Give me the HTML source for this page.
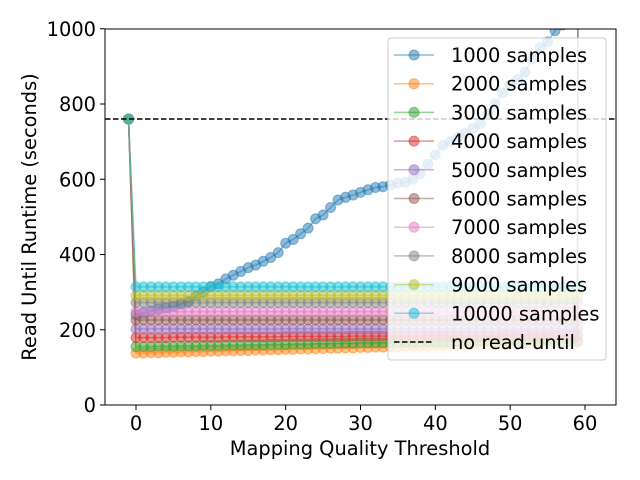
<!DOCTYPE html>
<html><head><meta charset="utf-8"><style>
html,body{margin:0;padding:0;background:#fff;}
svg{display:block;font-family:"DejaVu Sans","Liberation Sans",sans-serif;}
</style></head><body>
<svg id="chart" width="640" height="480" viewBox="0 0 640 480" xmlns="http://www.w3.org/2000/svg">
<defs><clipPath id="plotclip"><rect x="105" y="29" width="511" height="376"/></clipPath></defs>
<rect x="0" y="0" width="640" height="480" fill="#fff"/>
<g id="series" clip-path="url(#plotclip)"></g>
<line x1="105" x2="616" y1="119" y2="119" id="refline" stroke="#000" stroke-width="1.5" stroke-dasharray="5.5,2.5"/>
<rect x="105" y="29" width="511" height="376" fill="none" stroke="#000" stroke-width="1"/>
<g id="xticks"></g>
<g id="yticks"></g>
<text x="360" y="455" font-size="19.4" text-anchor="middle">Mapping Quality Threshold</text>
<text x="36" y="217" font-size="19.4" text-anchor="middle" transform="rotate(-90 36 217)">Read Until Runtime (seconds)</text>
<g id="legend"></g>
</svg>
<script>
const xs = [-1,0,1,2,3,4,5,6,7,8,9,10,11,12,13,14,15,16,17,18,19,20,21,22,23,24,25,26,27,28,29,30,31,32,33,34,35,36,37,38,39,40,41,42,43,44,45,46,47,48,49,50,51,52,53,54,55,56,57,58,59,60];
const s1000 = [760,240,245,250,255,258,262,268,275,290,300,315,322,335,345,355,365,372,382,392,405,430,440,455,470,495,505,525,545,552,558,565,572,578,580,585,590,592,600,615,640,665,690,700,712,722,735,748,772,800,830,850,865,885,920,950,965,995,1010,1030,1050,20000];
const s2000 = [760,138,138,139,139,140,140,141,141,142,142,143,143,144,144,145,145,146,146,147,147,148,148,149,149,150,150,151,151,152,152,153,153,154,154,155,155,156,156,157,157,158,158,159,159,160,160,161,161,162,162,163,163,164,164,165,165,166,166,167,167,20000];
const s3000 = [760,155,155,155,156,156,156,157,157,157,158,158,158,159,159,159,160,160,160,161,161,161,162,162,162,163,163,163,164,164,164,165,165,165,165,166,166,166,166,167,167,167,167,168,168,168,168,168,169,169,169,169,169,170,170,170,170,170,170,170,170,20000];
const s4000 = [760,179,179,179,179,179,180,180,180,180,180,180,180,181,181,181,181,181,181,181,181,182,182,182,182,182,182,182,182,182,183,183,183,183,183,183,183,183,183,183,184,184,184,184,184,184,184,184,184,184,185,185,185,185,185,185,185,185,185,185,185,20000];
const s5000 = [760,202,202,202,202,202,202,202,202,202,202,202,202,202,202,202,202,202,202,202,202,202,202,202,202,202,202,202,202,202,202,202,202,202,202,202,202,202,202,202,202,202,202,202,202,202,202,202,202,202,202,202,202,202,202,202,202,202,202,202,202,20000];
const s6000 = [760,226,226,226,226,226,226,226,226,226,226,226,226,226,226,226,226,226,226,226,226,226,226,226,226,226,226,226,226,226,226,226,226,226,226,226,226,226,226,226,226,226,226,226,226,226,226,226,226,226,226,226,226,226,226,226,226,226,226,226,226,20000];
const s7000 = [760,248,248,248,248,248,248,248,248,248,248,248,248,248,248,248,248,248,248,248,248,248,248,248,248,248,248,248,248,248,248,248,248,248,248,248,248,248,248,248,248,248,248,248,248,248,248,248,248,248,248,248,248,248,248,248,248,248,248,248,248,20000];
const s8000 = [760,272,272,272,272,272,272,272,272,272,272,272,272,272,272,272,272,272,272,272,272,272,272,272,272,272,272,272,272,272,272,272,272,272,272,272,272,272,272,272,272,272,272,272,272,272,272,272,272,272,272,272,272,272,272,272,272,272,272,272,272,20000];
const s9000 = [760,291,291,291,291,291,291,291,291,291,291,291,291,291,291,291,291,291,291,291,291,291,291,291,291,291,291,291,291,291,291,291,291,291,291,291,291,291,291,291,291,291,291,291,291,291,291,291,291,291,291,291,291,291,291,291,291,291,291,291,291,20000];
const s10000 = [760,314,314,314,314,314,314,314,314,314,314,314,314,314,314,314,314,314,314,314,314,314,314,314,314,314,314,314,314,314,314,314,314,314,314,314,314,314,314,314,314,314,314,314,314,314,314,314,314,314,314,314,314,314,314,314,314,314,314,314,314,20000];
const seriesNames = ["1000 samples","2000 samples","3000 samples","4000 samples","5000 samples","6000 samples","7000 samples","8000 samples","9000 samples","10000 samples"];
const noReadUntil = 760;
const xTicks = [0,10,20,30,40,50,60];
const yTicks = [0,200,400,600,800,1000];

const allSeries = [s1000,s2000,s3000,s4000,s5000,s6000,s7000,s8000,s9000,s10000];
const colors = ["#1f77b4","#ff7f0e","#2ca02c","#d62728","#9467bd","#8c564b","#e377c2","#7f7f7f","#bcbd22","#17becf"];
const NS = "http://www.w3.org/2000/svg";
const X = v => 136 + (v - 0) * (585 - 136) / 60;
const Y = v => 405 - v * (405 - 28.75) / 1000;

const sg = document.getElementById('series');
allSeries.forEach((vals, i) => {
  const g = document.createElementNS(NS, 'g');
  
  
  const pl = document.createElementNS(NS, 'polyline');
  pl.setAttribute('points', vals.map((v, j) => X(xs[j]) + ',' + Y(v)).join(' '));
  pl.setAttribute('fill', 'none');
  pl.setAttribute('stroke', colors[i]);
  pl.setAttribute('stroke-width', '1.5');
  pl.setAttribute('stroke-opacity', '0.5');
  
  
  g.appendChild(pl);
  vals.forEach((v, j) => {
    const c = document.createElementNS(NS, 'circle');
    c.setAttribute('cx', X(xs[j]));
    c.setAttribute('cy', Y(v));
    c.setAttribute('r', '5');
    c.setAttribute('fill', colors[i]);
    c.setAttribute('fill-opacity', '0.5');
    c.setAttribute('stroke', colors[i]);
    c.setAttribute('stroke-opacity', '0.5');
    
    
    g.appendChild(c);
  });
  sg.appendChild(g);
});
document.getElementById('refline').setAttribute('y1', Y(noReadUntil));
document.getElementById('refline').setAttribute('y2', Y(noReadUntil));

const xg = document.getElementById('xticks');
xTicks.forEach(t => {
  const l = document.createElementNS(NS, 'line');
  l.setAttribute('x1', X(t)); l.setAttribute('x2', X(t));
  l.setAttribute('y1', 405); l.setAttribute('y2', 410);
  l.setAttribute('stroke', '#000');
  
  
  xg.appendChild(l);
  const tx = document.createElementNS(NS, 'text');
  tx.setAttribute('x', X(t)); tx.setAttribute('y', 430);
  tx.setAttribute('font-size', '19.4'); tx.setAttribute('text-anchor', 'middle');
  
  
  tx.textContent = t;
  xg.appendChild(tx);
});
const yg = document.getElementById('yticks');
yTicks.forEach(t => {
  const l = document.createElementNS(NS, 'line');
  l.setAttribute('x1', 100); l.setAttribute('x2', 105);
  l.setAttribute('y1', Y(t)); l.setAttribute('y2', Y(t));
  l.setAttribute('stroke', '#000');
  
  
  yg.appendChild(l);
  const tx = document.createElementNS(NS, 'text');
  tx.setAttribute('x', 96); tx.setAttribute('y', Y(t) + 7);
  tx.setAttribute('font-size', '19.4'); tx.setAttribute('text-anchor', 'end');
  
  
  tx.textContent = t;
  yg.appendChild(tx);
});

const lg = document.getElementById('legend');
const box = document.createElementNS(NS, 'rect');
box.setAttribute('x', 388); box.setAttribute('y', 38);
box.setAttribute('width', 218); box.setAttribute('height', 322);
box.setAttribute('rx', 3);
box.setAttribute('fill', '#fff'); box.setAttribute('fill-opacity', '0.8');
box.setAttribute('stroke', '#ccc');


lg.appendChild(box);
const labels = seriesNames.concat(["no read-until"]);
labels.forEach((name, i) => {
  const y = 55 + i * 28.7;
  const g = document.createElementNS(NS, 'g');
  
  
  const l = document.createElementNS(NS, 'line');
  l.setAttribute('x1', 394); l.setAttribute('x2', 434);
  l.setAttribute('y1', y); l.setAttribute('y2', y);
  if (i < 10) {
    l.setAttribute('stroke', colors[i]); l.setAttribute('stroke-opacity', '0.5'); l.setAttribute('stroke-width', '1.5');
  } else {
    l.setAttribute('stroke', '#000'); l.setAttribute('stroke-width', '1.5'); l.setAttribute('stroke-dasharray', '5.5,2.5');
  }
  
  
  g.appendChild(l);
  if (i < 10) {
    const c = document.createElementNS(NS, 'circle');
    c.setAttribute('cx', 414); c.setAttribute('cy', y); c.setAttribute('r', 5);
    c.setAttribute('fill', colors[i]); c.setAttribute('fill-opacity', '0.5');
    c.setAttribute('stroke', colors[i]); c.setAttribute('stroke-opacity', '0.5');
    
    
    g.appendChild(c);
  }
  const tx = document.createElementNS(NS, 'text');
  tx.setAttribute('x', 451); tx.setAttribute('y', y + 7);
  tx.setAttribute('font-size', '19.4');
  
  
  tx.textContent = name;
  g.appendChild(tx);
  lg.appendChild(g);
});
</script>
</body></html>
